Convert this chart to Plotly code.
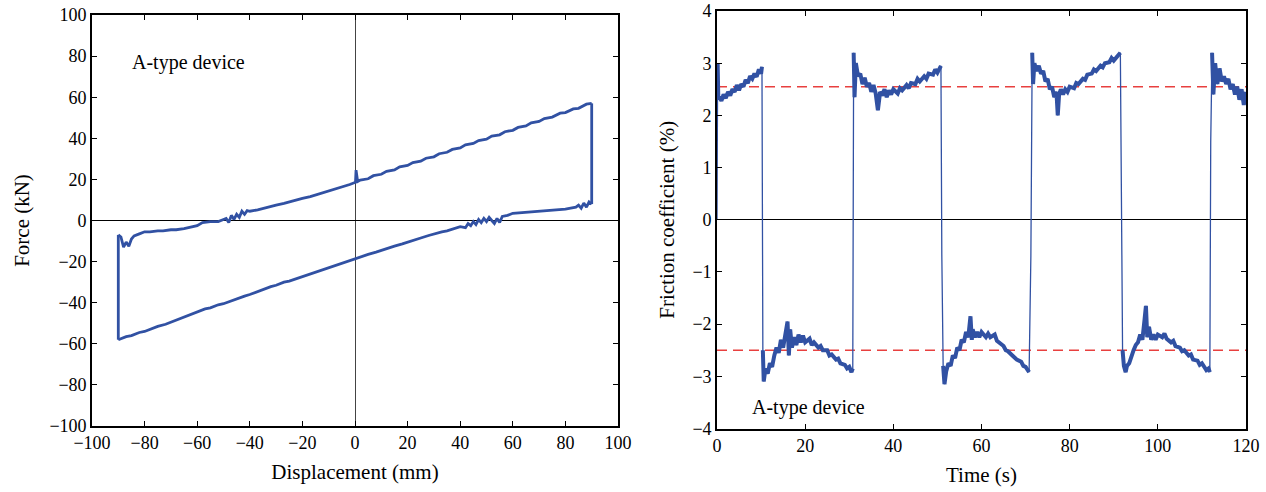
import plotly.graph_objects as go

# ---------------- Left panel: hysteresis loop ----------------
disp_lower = [-90, -89, -87, -85, -82, -80, -77, -75, -72, -70, -67, -65, -62, -60, -57, -55, -52, -50,
              -47, -45, -42, -40, -37, -35, -32, -30, -27, -25, -22, -20, -17, -15, -12, -10, -7, -5, -2, 0,
              3, 5, 8, 10, 13, 15, 18, 20, 23, 25, 28, 30, 33, 35, 38, 40, 42, 43, 44, 45, 46, 47, 48, 49,
              50, 51, 52, 53, 54, 55, 56, 58, 60, 63, 65, 68, 70, 73, 75, 78, 80, 82, 84, 85, 86, 87, 88, 89, 90]
force_lower = [-58, -57.5, -56.5, -56, -54.5, -54, -52.5, -51.5, -50.5, -49.5, -48, -47, -45.5, -44.5, -43, -42.5, -41, -40.5,
               -39, -38, -36.8, -36, -34.5, -33.5, -32.2, -31.5, -30, -29.5, -28.2, -27, -25.8, -25, -23.8, -23, -21.5, -20.5, -19.5, -18.5,
               -17.3, -16.5, -15.4, -14.5, -13.3, -12.5, -11.4, -10.5, -9.3, -8.5, -7.3, -6.5, -5.5, -5, -4, -3, -3.5, -1.5, -2.5, -0.5, -2,
               0.5, -1, 1, -0.5, 1.5, 0, -1.5, 1, -1, 2, 2.5, 3.5, 3.8, 4, 4.2, 4.3, 4.6, 4.8, 5.2, 5.5, 6, 6.5, 7.5, 6, 8.5, 6.5, 9, 8]

disp_upper = [90, 88, 85, 83, 80, 78, 75, 72, 70, 67, 65, 62, 60, 57, 55, 52, 50, 47, 45, 42, 40, 37, 35, 32, 30,
              27, 25, 22, 20, 17, 15, 12, 10, 7, 5, 2, 1, 0.4, 0.2, 0, -2, -5, -7, -10, -12, -15, -17, -20, -22, -25,
              -27, -30, -32, -35, -37, -40, -41, -42, -43, -44, -45, -46, -47, -48, -49, -50, -52, -55, -58, -60,
              -63, -65, -68, -70, -73, -75, -78, -80, -82, -84, -85, -86, -87, -88, -89, -90]
force_upper = [57, 56.6, 54.6, 54.3, 52.5, 52.2, 50.3, 49.6, 48.2, 47.5, 46.0, 45.3, 43.9, 43.2, 41.7, 41.1, 39.6, 38.9, 37.5, 36.8, 35.3,
               34.6, 33.2, 32.5, 31.0, 30.3, 28.9, 28.2, 26.8, 26.1, 24.6, 23.9, 22.5, 21.8, 20.3, 19.7, 19.0, 24.5, 19, 18.5,
               17.5, 16.3, 15.5, 14.3, 13.5, 12.4, 11.6, 10.8, 10, 9,
               8.3, 7.5, 6.8, 6, 5.2, 4.5, 4.8, 3, 4.5, 1.5, 3, 0.5, 2.5, -1, 1, 0.5, -0.5, -0.5, -1, -2.5,
               -3.5, -4, -4.5, -4.5, -5, -5, -5.5, -5.5, -6.5, -7.5, -9, -12.5, -10.5, -13, -8, -7]

disp_ends_right = [90, 90]
force_ends_right = [8, 57]
disp_ends_left = [-90, -90]
force_ends_left = [-7, -58]

# ---------------- Right panel: friction coefficient ----------------
time_s = [0, 0.15, 0.3, 0.5, 1.0, 1.5, 2.0, 2.5, 3.0, 3.5, 4.0, 4.5, 5.0, 5.5, 6.0, 6.5, 7.0, 7.5, 8.0, 8.5, 9.0, 9.5, 10.0, 10.2,
          10.4, 10.6, 11.0, 11.5, 12.0, 12.5, 13.0, 13.5, 14.0, 14.5, 15.0, 15.5, 16.0, 16.3, 16.6, 17.0, 17.5, 18.0, 18.5, 19.0, 19.5,
          20.0, 21.0, 21.5, 22.0, 23.0, 23.5, 24.0, 25.0, 25.5, 26.0, 27.0, 27.5, 28.0, 29.0, 29.5, 30.0, 30.5,
          30.8, 31.0, 31.2, 31.5, 32.0, 32.5, 33.0, 33.5, 34.0, 34.5, 35.0, 35.5, 36.0, 36.5, 37.0, 37.5, 38.0, 38.5, 39.0, 39.5,
          40.0, 41.0, 41.5, 42.0, 43.0, 43.5, 44.0, 45.0, 45.5, 46.0, 47.0, 47.5, 48.0, 49.0, 49.5, 50.0, 50.8,
          51.0, 51.3, 51.6, 52.0, 52.5, 53.0, 53.5, 54.0, 54.5, 55.0, 55.5, 56.0, 56.5, 57.0, 57.5, 57.8, 58.0, 58.5, 59.0, 59.5,
          60.0, 61.0, 61.5, 62.0, 63.0, 63.5, 64.0, 65.0, 65.5, 66.0, 67.0, 67.5, 68.0, 69.0, 69.5, 70.0, 70.8,
          71.2, 71.5, 71.7, 72.0, 72.5, 73.0, 73.5, 74.0, 74.5, 75.0, 75.5, 76.0, 76.5, 77.0, 77.3, 77.6, 78.0, 78.5, 79.0, 79.5,
          80.0, 81.0, 81.5, 82.0, 83.0, 83.5, 84.0, 85.0, 85.5, 86.0, 87.0, 87.5, 88.0, 89.0, 89.5, 90.0, 91.5,
          91.8, 92.0, 92.3, 92.7, 93.0, 93.5, 94.0, 94.5, 95.0, 95.5, 96.0, 96.5, 97.0, 97.3, 97.6, 98.0, 98.5, 99.0, 99.5,
          100.0, 101.0, 101.5, 102.0, 103.0, 103.5, 104.0, 105.0, 105.5, 106.0, 107.0, 107.5, 108.0, 109.0, 109.5, 110.0, 111.0, 111.5, 111.8,
          112.0, 112.3, 112.6, 113.0, 113.5, 114.0, 114.5, 115.0, 115.5, 116.0, 116.5, 117.0, 117.5, 118.0, 118.5, 119.0, 119.5, 120.0]
friction_pct = [0.0, 3.0, 2.3, 2.35, 2.28, 2.4, 2.33, 2.45, 2.38, 2.5, 2.45, 2.58, 2.48, 2.6, 2.55, 2.68, 2.62, 2.75, 2.7, 2.8, 2.74, 2.88, 2.8, 2.93,
                -2.5, -3.1, -2.85, -2.95, -2.75, -2.82, -2.6, -2.45, -2.55, -2.3, -2.45, -2.2, -1.95, -2.6, -2.1, -2.45, -2.25, -2.4, -2.2, -2.35, -2.22,
                -2.35, -2.28, -2.4, -2.35, -2.45, -2.42, -2.5, -2.5, -2.6, -2.58, -2.68, -2.66, -2.75, -2.78, -2.85, -2.82, -2.92,
                -2.85, 3.2, 2.35, 3.0, 2.75, 2.8, 2.6, 2.72, 2.55, 2.62, 2.45, 2.58, 2.42, 2.1, 2.45, 2.38, 2.5, 2.35, 2.48, 2.4,
                2.5, 2.42, 2.52, 2.48, 2.58, 2.52, 2.62, 2.6, 2.7, 2.65, 2.75, 2.7, 2.8, 2.78, 2.88, 2.82, 2.95,
                -0.7, -2.8, -3.15, -2.9, -2.75, -2.8, -2.6, -2.65, -2.45, -2.5, -2.3, -2.35, -2.15, -2.25, -1.85, -2.3, -2.1, -2.25, -2.15, -2.25,
                -2.15, -2.25, -2.18, -2.25, -2.2, -2.32, -2.35, -2.42, -2.5, -2.52, -2.6, -2.65, -2.68, -2.72, -2.8, -2.82, -2.92,
                -0.7, 3.2, 2.6, 3.0, 2.85, 2.95, 2.8, 2.85, 2.65, 2.7, 2.5, 2.55, 2.35, 2.45, 2.0, 2.4, 2.5, 2.4, 2.5, 2.45,
                2.55, 2.52, 2.62, 2.6, 2.7, 2.68, 2.78, 2.8, 2.88, 2.85, 2.95, 2.92, 3.0, 3.02, 3.1, 3.05, 3.2,
                0.5, -2.5, -2.8, -2.92, -2.8, -2.75, -2.6, -2.5, -2.4, -2.35, -2.2, -2.3, -1.9, -1.65, -2.25, -2.05, -2.3, -2.2, -2.3,
                -2.2, -2.25, -2.18, -2.28, -2.35, -2.32, -2.42, -2.45, -2.52, -2.5, -2.6, -2.58, -2.68, -2.7, -2.78, -2.75, -2.88, -2.85, -2.92,
                1.5, 3.2, 2.4, 3.0, 2.6, 2.9, 2.65, 2.75, 2.6, 2.7, 2.5, 2.6, 2.4, 2.55, 2.3, 2.5, 2.2, 2.45]

mean_time = [0, 120]
mean_pos = [2.55, 2.55]
mean_neg = [-2.5, -2.5]

x_ticks_left = [-100, -80, -60, -40, -20, 0, 20, 40, 60, 80, 100]
y_ticks_left = [-100, -80, -60, -40, -20, 0, 20, 40, 60, 80, 100]
x_ticks_right = [0, 20, 40, 60, 80, 100, 120]
y_ticks_right = [-4, -3, -2, -1, 0, 1, 2, 3, 4]

BLUE = "#3151a3"
RED = "#e8403f"
FONT = "Liberation Serif"

# thick version of the friction record: break the line at the fast sign-change transitions
thick_t, thick_f = [], []
for i, (t, f) in enumerate(zip(time_s, friction_pct)):
    if i > 0 and abs(f - friction_pct[i - 1]) > 1.2:
        thick_t.append(None)
        thick_f.append(None)
    thick_t.append(t)
    thick_f.append(f)

fig = go.Figure()
for xs, ys in [(disp_lower, force_lower), (disp_ends_right, force_ends_right),
               (disp_upper, force_upper), (disp_ends_left, force_ends_left)]:
    fig.add_trace(go.Scatter(x=xs, y=ys, mode="lines", line=dict(color=BLUE, width=2.8),
                             xaxis="x", yaxis="y", showlegend=False, hoverinfo="skip"))

fig.add_trace(go.Scatter(x=mean_time, y=mean_pos, mode="lines", line=dict(color=RED, width=1.5, dash="10px,6px"),
                         xaxis="x2", yaxis="y2", showlegend=False))
fig.add_trace(go.Scatter(x=mean_time, y=mean_neg, mode="lines", line=dict(color=RED, width=1.5, dash="10px,6px"),
                         xaxis="x2", yaxis="y2", showlegend=False))
fig.add_trace(go.Scatter(x=time_s, y=friction_pct, mode="lines", line=dict(color=BLUE, width=1.3),
                         xaxis="x2", yaxis="y2", showlegend=False))
fig.add_trace(go.Scatter(x=thick_t, y=thick_f, mode="lines", line=dict(color=BLUE, width=4),
                         connectgaps=False, xaxis="x2", yaxis="y2", showlegend=False))

axis_common = dict(showgrid=False, showline=True, linecolor="black", linewidth=1.6, mirror="allticks",
                   ticks="inside", ticklen=5, tickwidth=1.2, tickcolor="black", automargin=False,
                   tickfont=dict(family=FONT, size=18, color="black"))
title_font = dict(family=FONT, size=21, color="black")

fig.update_layout(
    width=1266, height=492, margin=dict(l=0, r=0, t=0, b=0),
    paper_bgcolor="white", plot_bgcolor="white",
    font=dict(family=FONT, size=18, color="black"),
    xaxis=dict(domain=[92 / 1266, 618 / 1266], range=[-100, 100], tickvals=x_ticks_left,
               zeroline=True, zerolinecolor="#444444", zerolinewidth=1.2,
               title=dict(text="Displacement (mm)", font=title_font, standoff=12),
               anchor="y", **axis_common),
    yaxis=dict(domain=[1 - 426 / 492, 1 - 15 / 492], range=[-100, 100], tickvals=y_ticks_left,
               zeroline=True, zerolinecolor="black", zerolinewidth=1.2,
               title=dict(text="Force (kN)", font=title_font, standoff=14),
               anchor="x", **axis_common),
    xaxis2=dict(domain=[717 / 1266, 1246 / 1266], range=[0, 120], tickvals=x_ticks_right,
                zeroline=False,
                title=dict(text="Time (s)", font=title_font, standoff=12),
                anchor="y2", **axis_common),
    yaxis2=dict(domain=[1 - 428.5 / 492, 1 - 11 / 492], range=[-4, 4], tickvals=y_ticks_right,
                zeroline=True, zerolinecolor="black", zerolinewidth=1.2,
                title=dict(text="Friction coefficient (%)", font=title_font, standoff=12),
                anchor="x2", **axis_common),
    annotations=[
        dict(text="A-type device", x=-85.5, y=77, xref="x", yref="y", xanchor="left", yanchor="middle",
             showarrow=False, font=dict(family=FONT, size=20, color="black")),
        dict(text="A-type device", x=7.5, y=-3.6, xref="x2", yref="y2", xanchor="left", yanchor="middle",
             showarrow=False, font=dict(family=FONT, size=20, color="black")),
    ],
)

fig.write_html("out.html")
